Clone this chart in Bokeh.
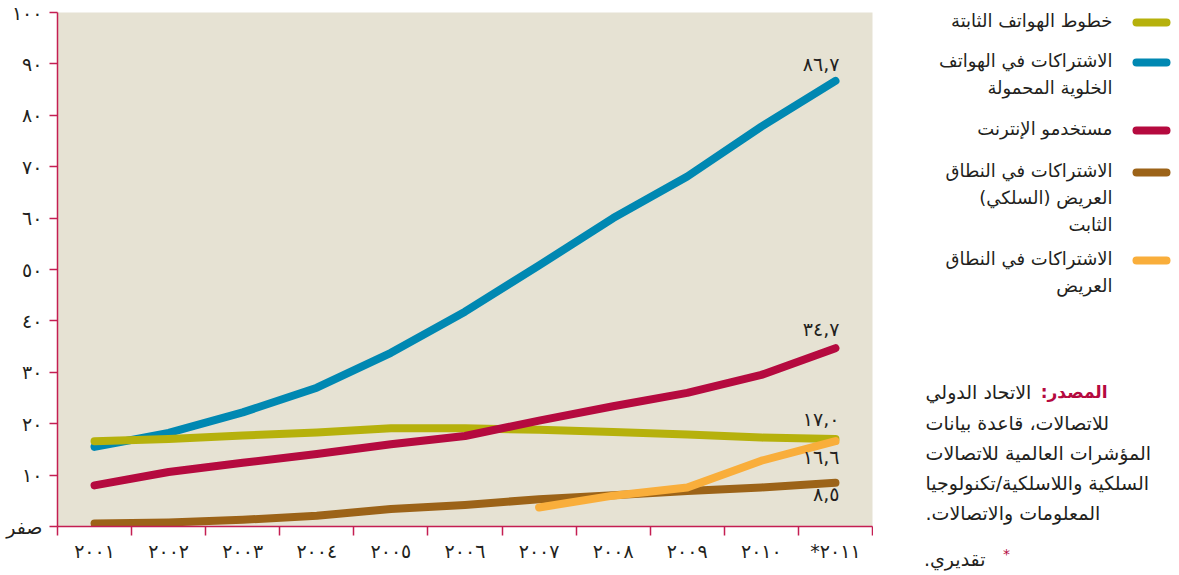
from bokeh.plotting import figure
from bokeh.models import Range1d, FixedTicker, ColumnDataSource, Label
from bokeh.layouts import row
from bokeh.core.properties import value
from bokeh.embed import file_html
from bokeh.resources import INLINE

# ---------------- data ----------------
years = [2001, 2002, 2003, 2004, 2005, 2006, 2007, 2008, 2009, 2010, 2011]
year_labels = ["٢٠٠١", "٢٠٠٢", "٢٠٠٣", "٢٠٠٤", "٢٠٠٥", "٢٠٠٦", "٢٠٠٧", "٢٠٠٨", "٢٠٠٩", "٢٠١٠", "*٢٠١١"]

fixed_tel = [16.6, 17.0, 17.7, 18.3, 19.1, 19.1, 18.8, 18.4, 17.9, 17.3, 17.0]
mobile = [15.5, 18.2, 22.2, 27.0, 33.8, 41.8, 50.8, 60.0, 68.1, 77.8, 86.7]
internet = [8.0, 10.6, 12.4, 14.1, 16.0, 17.6, 20.6, 23.4, 26.0, 29.5, 34.7]
fixed_bb = [0.6, 0.8, 1.3, 2.1, 3.4, 4.2, 5.3, 6.1, 6.9, 7.6, 8.5]
mobile_bb = [None, None, None, None, None, None, 3.7, 6.0, 7.6, 12.8, 16.6]

series_names = [
    ["خطوط الهواتف الثابتة"],
    ["الاشتراكات في الهواتف", "الخلوية المحمولة"],
    ["مستخدمو الإنترنت"],
    ["الاشتراكات في النطاق", "العريض (السلكي)", "الثابت"],
    ["الاشتراكات في النطاق", "العريض"],
]
series_values = [fixed_tel, mobile, internet, fixed_bb, mobile_bb]
series_colors = ["#B6B10C", "#0088B2", "#B50A3F", "#9C6318", "#F9AE3B"]

y_ticks = [0, 10, 20, 30, 40, 50, 60, 70, 80, 90, 100]
zero_label = "صفر"

source_head = "المصدر:"
source_lines = [
    "الاتحاد الدولي",
    "للاتصالات، قاعدة بيانات",
    "المؤشرات العالمية للاتصالات",
    "السلكية واللاسلكية/تكنولوجيا",
    "المعلومات والاتصالات.",
]
note_text = "تقديري."

AR = str.maketrans("0123456789", "٠١٢٣٤٥٦٧٨٩")
RLM = "\u200f"


def ar(s):
    return str(s).translate(AR)


# ---------------- styles ----------------
FONT = "DejaVu Sans"
AXIS = "#C41E52"
BG = "#E6E2D3"
TXT = "#231F20"

# ---------------- main chart ----------------
n = len(years)
xs = list(range(n))
p = figure(width=873, height=575,
           x_range=Range1d(-0.5, n - 0.5), y_range=Range1d(0, 100),
           output_backend="svg", toolbar_location=None,
           min_border_left=57, min_border_right=1, min_border_top=12, min_border_bottom=49,
           background_fill_color=BG, border_fill_color="white", outline_line_color=None)
p.grid.visible = False

# x axis: labels at centers, tick marks at boundaries
p.xaxis.ticker = FixedTicker(ticks=xs, minor_ticks=[i - 0.5 for i in range(n + 1)])
p.xaxis.major_label_overrides = {i: year_labels[i] for i in xs}
p.xaxis.major_tick_line_color = None
p.xaxis.major_tick_out = 0
p.xaxis.major_tick_in = 0
p.xaxis.minor_tick_line_color = AXIS
p.xaxis.minor_tick_line_width = 1.5
p.xaxis.minor_tick_out = 9
p.xaxis.minor_tick_in = 0
p.xaxis.axis_line_color = AXIS
p.xaxis.axis_line_width = 1.5
p.xaxis.major_label_standoff = 4
p.xaxis.major_label_text_font = FONT
p.xaxis.major_label_text_font_size = "19px"
p.xaxis.major_label_text_color = TXT

p.yaxis.ticker = FixedTicker(ticks=y_ticks, minor_ticks=[])
p.yaxis.major_label_overrides = {t: (zero_label if t == 0 else ar(t)) for t in y_ticks}
p.yaxis.major_tick_line_color = AXIS
p.yaxis.major_tick_line_width = 1.5
p.yaxis.major_tick_out = 8
p.yaxis.major_tick_in = 0
p.yaxis.axis_line_color = AXIS
p.yaxis.axis_line_width = 1.5
p.yaxis.major_label_standoff = 7
p.yaxis.major_label_text_font = FONT
p.yaxis.major_label_text_font_size = "19px"
p.yaxis.major_label_text_color = TXT

draw_order = [1, 0, 2, 3, 4]
for k in draw_order:
    vals = series_values[k]
    px = [xs[i] for i, v in enumerate(vals) if v is not None]
    py = [v for v in vals if v is not None]
    p.line(px, py, line_color=series_colors[k], line_width=8, line_cap="round", line_join="round")

# end-value annotations
ann_series = [mobile, internet, fixed_tel, mobile_bb, fixed_bb]
ann_offsets = [-17, -19, -20, 16, 11]
last = n - 1
ann = ColumnDataSource(dict(
    x=[last] * len(ann_series),
    y=[s[last] for s in ann_series],
    text=[ar(f"{s[last]:.1f}".replace(".", ",")) for s in ann_series],
    yo=ann_offsets,
))
p.text(x="x", y="y", text="text", source=ann, x_offset=4, y_offset="yo",
       text_align="right", text_baseline="middle",
       text_font=value(FONT), text_font_size="19px", text_color=TXT)

# ---------------- legend / source panel ----------------
# (the row aligns this panel's frame with the chart frame: canvas y 12..526)
W2 = 306
q = figure(width=W2, height=575, x_range=Range1d(0, W2), y_range=Range1d(526, 12),
           output_backend="svg", toolbar_location=None,
           x_axis_location=None, y_axis_location=None,
           min_border_left=0, min_border_right=0, min_border_top=12, min_border_bottom=49,
           outline_line_color=None,
           background_fill_color="white", border_fill_color="white")
q.grid.visible = False

legend_rows_y = [22, 62, 130, 172, 260]
line_gap = 27
for k in range(len(series_names)):
    y0 = legend_rows_y[k]
    q.line([263, 293], [y0, y0], line_color=series_colors[k], line_width=8, line_cap="round")
    lines = series_names[k]
    q.text(x=[239] * len(lines), y=[y0 - 2 + j * line_gap for j in range(len(lines))],
           text=[t + RLM for t in lines], text_align="right", text_baseline="middle",
           text_font=value(FONT), text_font_size="18px", text_color=TXT)

src_y = [391, 422, 452, 482, 512]
q.text(x=[234], y=[src_y[0]], text=[source_head + RLM], text_align="right", text_baseline="middle",
       text_font=value(FONT), text_font_size="17px", text_font_style="bold", text_color="#B50A3F")
q.text(x=[52] * len(source_lines), y=src_y, text=[t + RLM for t in source_lines],
       text_align="left", text_baseline="middle",
       text_font=value(FONT), text_font_size="19px", text_color=TXT)

# footnote below the frame (side-panel annotations are not clipped)
q.add_layout(Label(x=133, y=-11, x_units="screen", y_units="screen", text="*",
                   text_align="center", text_baseline="middle",
                   text_font=FONT, text_font_size="14px", text_color="#B50A3F"), "below")
q.add_layout(Label(x=112, y=6, x_units="screen", y_units="screen", text=note_text + RLM,
                   text_align="right", text_baseline="middle",
                   text_font=FONT, text_font_size="19px", text_color=TXT), "below")

layout = row(p, q, spacing=0)
open("out.html", "w").write(file_html(layout, INLINE))
